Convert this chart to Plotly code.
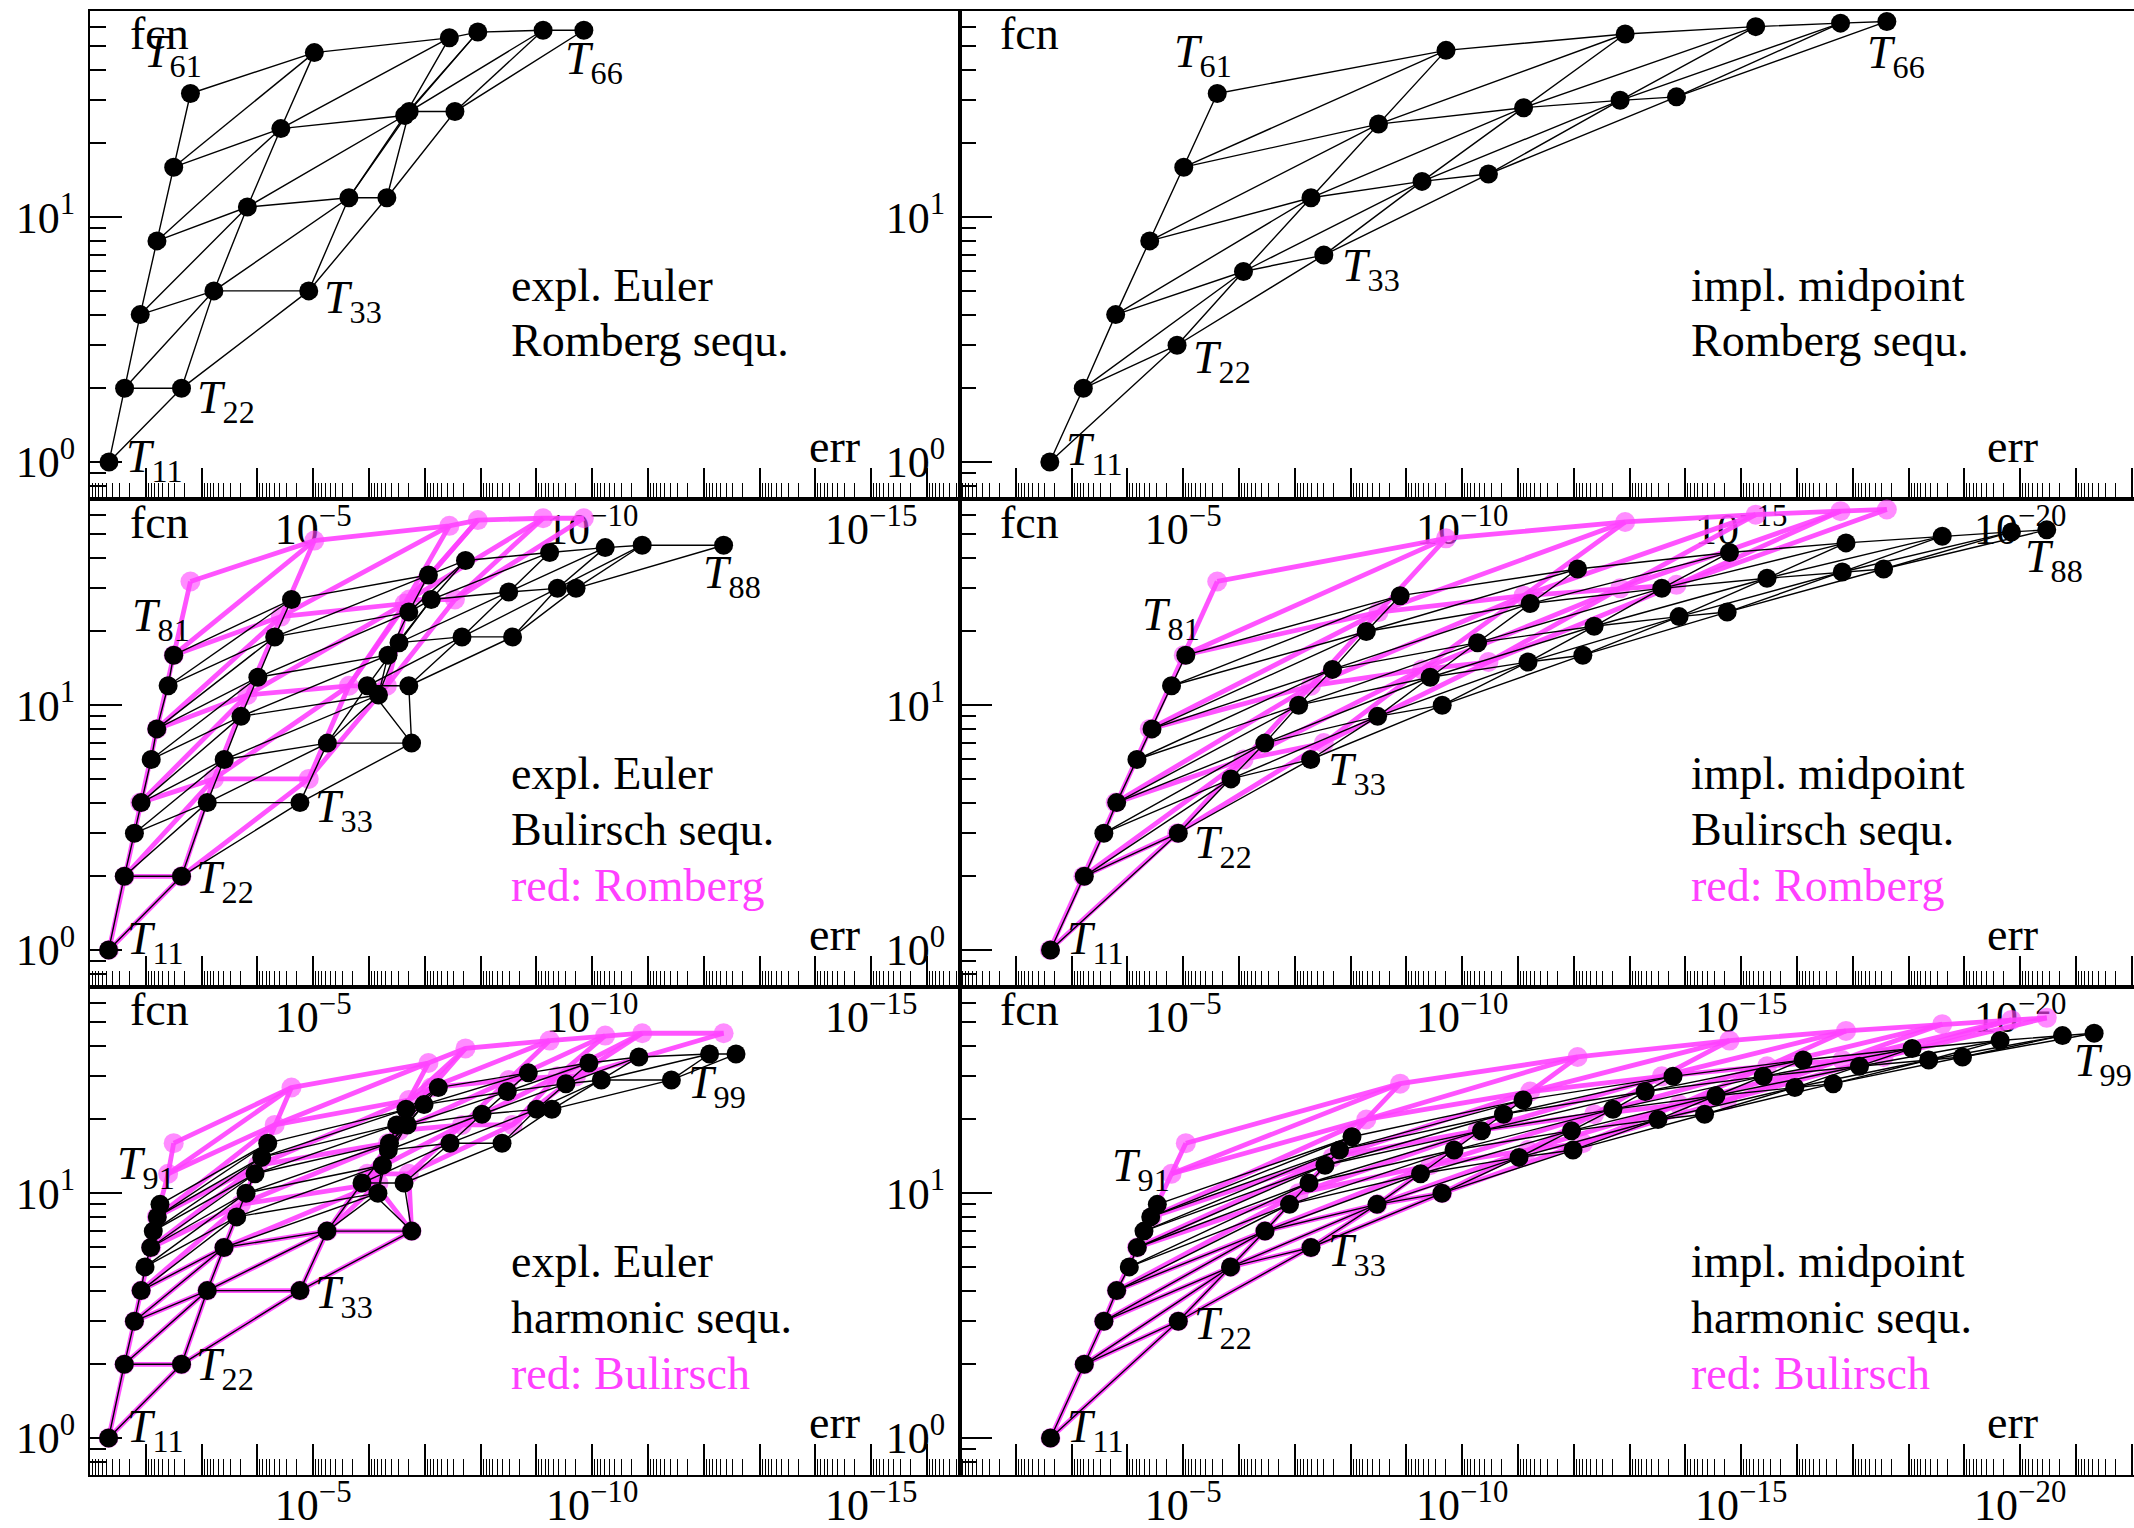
import math
import plotly.graph_objects as go

# ---------------- data: log10(err) and fcn for each tableau T_jk (row j, col k) ----------------
EULER_ROMBERG_LOGERR = [
    [-1.34],
    [-1.62, -2.64],
    [-1.90, -3.22, -4.92],
    [-2.20, -3.82, -5.64, -6.32],
    [-2.50, -4.42, -6.64, -6.72, -7.54],
    [-2.80, -5.02, -7.44, -7.95, -9.12, -9.85],
]
EULER_ROMBERG_FCN = [[1], [2, 2], [4, 5, 5], [8, 11, 12, 12], [16, 23, 26, 27, 27],
                     [32, 47, 54, 57, 58, 58]]

MIDPT_ROMBERG_LOGERR = [
    [-2.61],
    [-3.21, -4.89],
    [-3.79, -6.08, -7.52],
    [-4.40, -7.29, -9.28, -10.47],
    [-5.01, -8.50, -11.10, -12.83, -13.84],
    [-5.61, -9.71, -12.92, -15.26, -16.78, -17.61],
]
MIDPT_ROMBERG_FCN = [[1], [2, 3], [4, 6, 7], [8, 12, 14, 15], [16, 24, 28, 30, 31],
                     [32, 48, 56, 60, 62, 63]]

EULER_BULIRSCH_LOGERR = [
    [-1.333],
    [-1.615, -2.640],
    [-1.796, -3.102, -4.762],
    [-1.916, -3.405, -5.254, -6.763],
    [-2.097, -3.706, -6.170, -5.970, -6.713],
    [-2.197, -4.008, -6.341, -6.538, -7.667, -8.573],
    [-2.400, -4.310, -6.713, -7.115, -8.504, -9.378, -9.710],
    [-2.500, -4.611, -7.065, -7.729, -9.237, -10.233, -10.896, -12.355],
]
EULER_BULIRSCH_FCN = [[1], [2, 2], [3, 4, 4], [4, 6, 7, 7], [6, 9, 11, 12, 12],
                      [8, 13, 16, 18, 19, 19], [12, 19, 24, 27, 29, 30, 30],
                      [16, 27, 34, 39, 42, 44, 45, 45]]

MIDPT_BULIRSCH_LOGERR = [
    [-2.622],
    [-3.228, -4.912],
    [-3.578, -5.856, -7.284],
    [-3.808, -6.462, -8.484, -9.642],
    [-4.171, -7.069, -9.427, -11.179, -12.162],
    [-4.441, -7.675, -10.276, -12.364, -13.887, -14.749],
    [-4.791, -8.281, -11.219, -13.577, -15.463, -16.811, -17.552],
    [-5.047, -8.888, -12.068, -14.790, -16.878, -18.603, -19.843, -20.476],
]
MIDPT_BULIRSCH_FCN = [[1], [2, 3], [3, 5, 6], [4, 7, 9, 10], [6, 10, 13, 15, 16],
                      [8, 14, 18, 21, 23, 24], [12, 20, 26, 30, 33, 35, 36],
                      [16, 28, 36, 42, 46, 49, 51, 52]]

EULER_HARMONIC_LOGERR = [
    [-1.333],
    [-1.615, -2.640],
    [-1.796, -3.102, -4.762],
    [-1.916, -3.401, -5.247, -6.765],
    [-1.986, -3.629, -6.160, -5.875, -6.627],
    [-2.088, -3.796, -6.240, -6.346, -7.452, -8.384],
    [-2.134, -3.957, -6.367, -6.686, -8.025, -9.005, -9.278],
    [-2.206, -4.077, -6.496, -6.986, -8.478, -9.529, -10.163, -11.419],
    [-2.254, -4.185, -6.663, -7.242, -8.855, -9.941, -10.837, -12.104, -12.577],
]
EULER_HARMONIC_FCN = [[1], [2, 2], [3, 4, 4], [4, 6, 7, 7], [5, 8, 10, 11, 11],
                      [6, 10, 13, 15, 16, 16], [7, 12, 16, 19, 21, 22, 22],
                      [8, 14, 19, 23, 26, 28, 29, 29], [9, 16, 22, 27, 31, 34, 36, 37, 37]]

MIDPT_HARMONIC_LOGERR = [
    [-2.622],
    [-3.228, -4.912],
    [-3.579, -5.848, -7.290],
    [-3.808, -6.466, -8.473, -9.638],
    [-4.034, -6.905, -9.253, -11.018, -11.986],
    [-4.177, -7.254, -9.853, -11.959, -13.509, -14.344],
    [-4.297, -7.541, -10.346, -12.701, -14.547, -15.961, -16.649],
    [-4.418, -7.801, -10.740, -13.280, -15.396, -17.120, -18.360, -18.966],
    [-4.536, -8.025, -11.090, -13.778, -16.109, -18.063, -19.640, -20.758, -21.325],
]
MIDPT_HARMONIC_FCN = [[1], [2, 3], [3, 5, 6], [4, 7, 9, 10], [5, 9, 12, 14, 15],
                      [6, 11, 15, 18, 20, 21], [7, 13, 18, 22, 25, 27, 28],
                      [8, 15, 21, 26, 30, 33, 35, 36], [9, 17, 24, 30, 35, 39, 42, 44, 45]]

# panel texts
PANEL_TEXT = [
    [["expl. Euler", "Romberg sequ."], ["impl. midpoint", "Romberg sequ."]],
    [["expl. Euler", "Bulirsch sequ.", "red: Romberg"], ["impl. midpoint", "Bulirsch sequ.", "red: Romberg"]],
    [["expl. Euler", "harmonic sequ.", "red: Bulirsch"], ["impl. midpoint", "harmonic sequ.", "red: Bulirsch"]],
]
X_TICK_EXPONENTS = [[5, 10, 15], [5, 10, 15, 20]]
Y_TICK_VALUES = [1, 10]
Y_TICK_TEXT = ["10<sup>0</sup>", "10<sup>1</sup>"]

DATA = [  # DATA[row][col] = (logerr, fcn)
    [(EULER_ROMBERG_LOGERR, EULER_ROMBERG_FCN), (MIDPT_ROMBERG_LOGERR, MIDPT_ROMBERG_FCN)],
    [(EULER_BULIRSCH_LOGERR, EULER_BULIRSCH_FCN), (MIDPT_BULIRSCH_LOGERR, MIDPT_BULIRSCH_FCN)],
    [(EULER_HARMONIC_LOGERR, EULER_HARMONIC_FCN), (MIDPT_HARMONIC_LOGERR, MIDPT_HARMONIC_FCN)],
]

# label placements: (j, k, dx, dy) pixel offsets of the label from the point
LABELS = [
    [[(1, 1, 15, -8), (2, 2, 13, 7), (3, 3, 13, 4), (6, 1, -48, -44), (6, 6, -21, 26)],
     [(1, 1, 14, -15), (2, 2, 14, 10), (3, 3, 16, 8), (6, 1, -45, -44), (6, 6, -22, 29)]],
    [[(1, 1, 16, -14), (2, 2, 12, -1), (3, 3, 13, 1), (8, 1, -44, -42), (8, 8, -23, 25)],
     [(1, 1, 14, -14), (2, 2, 14, 7), (3, 3, 15, 8), (8, 1, -46, -43), (8, 8, -24, 24)]],
    [[(1, 1, 16, -14), (2, 2, 12, -2), (3, 3, 13, -1), (9, 1, -45, -43), (9, 9, -50, 26)],
     [(1, 1, 14, -14), (2, 2, 14, 0), (3, 3, 15, 1), (9, 1, -47, -41), (9, 9, -22, 25)]],
]

# ---------------- layout geometry ----------------
W, H = 2134, 1528
ML, MR, MT, MB = 90, 0, 11, 53
PW, PH = W - ML - MR, H - MT - MB
COL_W = [870, 1174]
ROW_H = PH / 3
DEC_PX = 55.8
XRANGES = [[-1, -1 - COL_W[0] / DEC_PX], [-1, -1 - COL_W[1] / DEC_PX]]
YRANGE = [-0.151, 1.842]

FONT = "Liberation Serif"
MAGENTA = "#ff40ff"
FS = 46


def px2paper(px, py):
    return (px - ML) / PW, 1 - (py - MT) / PH


def mesh(logerr, fcn):
    J = len(logerr)
    xs, ys = [], []

    def add(pts):
        if len(pts) < 2:
            return
        for (j, k) in pts:
            xs.append(10 ** logerr[j][k])
            ys.append(fcn[j][k])
        xs.append(None)
        ys.append(None)
    for j in range(J):
        add([(j, k) for k in range(j + 1)])
    for k in range(J):
        add([(j, k) for j in range(k, J)])
    for d in range(J):
        add([(d + i, i) for i in range(J - d)])
    px = [10 ** logerr[j][k] for j in range(J) for k in range(j + 1)]
    py = [fcn[j][k] for j in range(J) for k in range(j + 1)]
    return xs, ys, px, py


fig = go.Figure()
annotations = []
layout_axes = {}

xminor = [m * 10.0 ** (-d) for d in range(2, 25) for m in range(2, 10)]
yminor = [0.8, 0.9] + [m for m in range(2, 10)] + [10 * m for m in range(2, 10)]

for r in range(3):
    for c in range(2):
        idx = r * 2 + c + 1
        xa = "x" if idx == 1 else f"x{idx}"
        ya = "y" if idx == 1 else f"y{idx}"
        lab_idx = 6 + idx
        xl = f"x{lab_idx}"
        x0 = sum(COL_W[:c]) / PW
        x1 = sum(COL_W[:c + 1]) / PW
        y1 = 1 - r / 3
        y0 = 1 - (r + 1) / 3

        layout_axes["xaxis" if idx == 1 else f"xaxis{idx}"] = dict(
            domain=[x0, x1], anchor=ya, type="log", range=XRANGES[c], automargin=False,
            showline=True, linecolor="black", linewidth=2, mirror=True,
            showgrid=False, zeroline=False,
            ticks="inside", ticklen=31, tickwidth=1.5, tickcolor="black",
            tickmode="linear", tick0=0, dtick=1, showticklabels=False,
            minor=dict(tickvals=xminor, ticks="inside", ticklen=16, tickwidth=1.1,
                       tickcolor="black", showgrid=False),
        )
        # overlay axis carrying only the labelled decades
        layout_axes[f"xaxis{lab_idx}"] = dict(
            overlaying=xa, anchor=ya, side="bottom", type="log", range=XRANGES[c],
            automargin=False, showline=False, showgrid=False, zeroline=False, ticks="",
            tickvals=[10.0 ** (-d) for d in X_TICK_EXPONENTS[c]],
            ticktext=[f"10<sup>\u2212{d}</sup>" for d in X_TICK_EXPONENTS[c]],
            ticklabelstandoff=0,
            tickfont=dict(family=FONT, size=44, color="black"),
        )
        layout_axes["yaxis" if idx == 1 else f"yaxis{idx}"] = dict(
            domain=[y0, y1], anchor=xa, type="log", range=YRANGE, automargin=False,
            showline=True, linecolor="black", linewidth=2, mirror=True,
            showgrid=False, zeroline=False,
            ticks="inside", ticklen=32, tickwidth=2, tickcolor="black",
            tickvals=Y_TICK_VALUES, ticktext=Y_TICK_TEXT,
            ticklabelstandoff=4,
            tickfont=dict(family=FONT, size=44, color="black"),
            minor=dict(tickvals=yminor, ticks="inside", ticklen=16, tickwidth=1.5,
                       tickcolor="black", showgrid=False),
        )
        # empty trace so the overlay axis is drawn
        fig.add_trace(go.Scatter(x=[None], y=[None], xaxis=xl, yaxis=ya, mode="markers",
                                 hoverinfo="skip", showlegend=False))

        # magenta reference tableau (previous sequence)
        if r > 0:
            le, fc = DATA[r - 1][c]
            mx, my, mpx, mpy = mesh(le, fc)
            fig.add_trace(go.Scatter(x=mx, y=my, mode="lines", xaxis=xa, yaxis=ya,
                                     line=dict(color="rgba(255,64,255,0.9)", width=4.8),
                                     hoverinfo="skip", showlegend=False))
            fig.add_trace(go.Scatter(x=mpx, y=mpy, mode="markers", xaxis=xa, yaxis=ya,
                                     marker=dict(color="rgba(255,70,255,0.62)", size=20, line=dict(width=0)),
                                     hoverinfo="skip", showlegend=False))
        le, fc = DATA[r][c]
        bx, by, bpx, bpy = mesh(le, fc)
        fig.add_trace(go.Scatter(x=bx, y=by, mode="lines", xaxis=xa, yaxis=ya,
                                 line=dict(color="black", width=1.4),
                                 hoverinfo="skip", showlegend=False))
        fig.add_trace(go.Scatter(x=bpx, y=bpy, mode="markers", xaxis=xa, yaxis=ya,
                                 marker=dict(color="black", size=19, line=dict(width=0)),
                                 hoverinfo="skip", showlegend=False))

        # T labels
        for (j, k, dx, dy) in LABELS[r][c]:
            annotations.append(dict(
                x=le[j - 1][k - 1], y=math.log10(fc[j - 1][k - 1]),
                xref=xa, yref=ya, showarrow=False, xanchor="left", yanchor="middle",
                xshift=dx, yshift=-(dy + 6),
                text=f"<i>T</i><sub>{j}{k}</sub>",
                font=dict(family=FONT, size=FS, color="black"),
            ))

        # panel texts
        ox = ML + sum(COL_W[:c])
        oy = MT + r * ROW_H
        tx = 419 if c == 0 else 729
        for i, line in enumerate(PANEL_TEXT[r][c]):
            px, py = px2paper(ox + tx, oy + 274 + 56 * i)
            annotations.append(dict(
                x=px, y=py, xref="paper", yref="paper", showarrow=False,
                xanchor="left", yanchor="middle", text=line,
                font=dict(family=FONT, size=FS, color=(MAGENTA if i == 2 else "black")),
            ))
        px, py = px2paper(ox + 69, oy + 23)
        annotations.append(dict(x=px, y=py, xref="paper", yref="paper", showarrow=False,
                                xanchor="center", yanchor="middle", text="fcn",
                                font=dict(family=FONT, size=FS, color="black")))
        ex = 744 if c == 0 else 1052
        px, py = px2paper(ox + ex, oy + 435)
        annotations.append(dict(x=px, y=py, xref="paper", yref="paper", showarrow=False,
                                xanchor="center", yanchor="middle", text="err",
                                font=dict(family=FONT, size=FS, color="black")))

fig.update_layout(
    width=W, height=H,
    margin=dict(l=ML, r=MR, t=MT, b=MB, pad=0, autoexpand=False),
    paper_bgcolor="white", plot_bgcolor="rgba(0,0,0,0)",
    showlegend=False,
    font=dict(family=FONT, size=FS, color="black"),
    annotations=annotations,
    **layout_axes,
)

fig.write_html("out.html")
